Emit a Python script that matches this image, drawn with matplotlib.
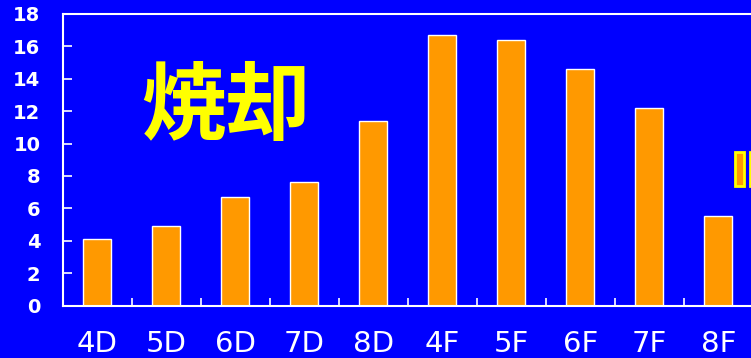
import numpy as np
import matplotlib.pyplot as plt
from matplotlib.patches import Rectangle

# 測定点ごとの値
categories = ["4D", "5D", "6D", "7D", "8D", "4F", "5F", "6F", "7F", "8F"]
values = [4.1, 4.9, 6.7, 7.6, 11.4, 16.7, 16.4, 14.6, 12.2, 5.5]
y_ticks = [0, 2, 4, 6, 8, 10, 12, 14, 16, 18]

blue = "#0000FF"
orange = "#FF9900"
W, H = 751, 358

fig = plt.figure(figsize=(W / 100, H / 100), dpi=100)
fig.patch.set_facecolor(blue)
ax = fig.add_axes([62.7 / W, (H - 305.5) / H, 690 / W, (305.5 - 13.9) / H])
ax.set_facecolor(blue)

x = np.arange(len(categories))
ax.bar(x, values, width=0.4, color=orange, edgecolor="white", linewidth=1.0)

ax.set_xlim(-0.5, len(categories) - 0.5)
ax.set_ylim(0, 18)
ax.set_yticks(y_ticks)
ax.set_yticklabels([str(t) for t in y_ticks], color="white",
                   fontsize=14, fontweight="bold", family="DejaVu Sans")
ax.tick_params(axis="y", direction="in", length=6.5, width=1.2,
               color="white", pad=16)

# カテゴリ名は中央、目盛りは区切り位置
ax.set_xticks(x)
ax.set_xticklabels(categories, color="white", fontsize=21, family="DejaVu Sans")
ax.tick_params(axis="x", which="major", length=0, pad=18)
ax.set_xticks(x[:-1] + 0.5, minor=True)
ax.tick_params(axis="x", which="minor", direction="in", length=6, width=1.2,
               color="white")

for side in ["left", "bottom", "top", "right"]:
    ax.spines[side].set_color("white")
    ax.spines[side].set_linewidth(1.5)

fig.text(226 / W, (H - 108) / H, "焼却", color="#FFFF00", fontsize=61,
         fontweight="bold", family=["Noto Sans CJK JP", "DejaVu Sans"],
         ha="center", va="center")

# 右端の凡例マーカー
for x0 in [734.5, 749.5]:
    fig.add_artist(Rectangle((x0 / W, (H - 186) / H), 9.5 / W, 34 / H,
                             transform=fig.transFigure, facecolor=orange,
                             edgecolor="#FFFF00", linewidth=2))

fig.savefig("out.png", dpi=100, facecolor=blue)
